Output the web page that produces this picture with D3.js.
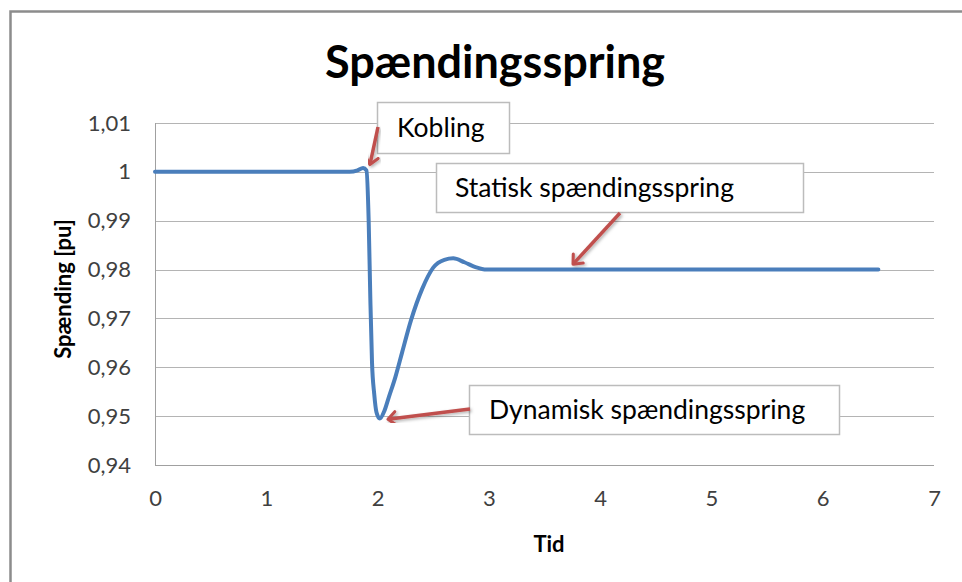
<!DOCTYPE html>
<html>
<head>
<meta charset="utf-8">
<script src="https://cdn.jsdelivr.net/npm/d3@7"></script>
<style>
  body { margin: 0; background: #fff; }
  text { font-family: Lato, "Noto Sans", sans-serif; }
</style>
</head>
<body>
<script>
// chart size
var w = 962;
var h = 582;

// data: time and voltage [pu]
var tid = [0, 1.0, 1.75, 1.82, 1.87, 1.9, 1.92, 1.935, 1.95, 1.97, 1.99, 2.02, 2.06, 2.1, 2.16, 2.22, 2.3, 2.4, 2.5, 2.6, 2.68, 2.78, 2.88, 2.98, 4, 5, 6, 6.5];
var spaending = [1.0, 1.0, 1.0, 1.0003, 1.0008, 1.0003, 0.99, 0.974, 0.961, 0.9545, 0.9508, 0.9495, 0.951, 0.9538, 0.958, 0.963, 0.9696, 0.976, 0.9804, 0.982, 0.9823, 0.9815, 0.9805, 0.98, 0.98, 0.98, 0.98, 0.98];

var yTicks = [0.94, 0.95, 0.96, 0.97, 0.98, 0.99, 1.0, 1.01];
var xTicks = [0, 1, 2, 3, 4, 5, 6, 7];

// callouts: text, the point on the curve the arrow hits
var callTekst = ["Kobling", "Statisk spændingsspring", "Dynamisk spændingsspring"];
var callPunkt = [[1.92, 1.0003], [3.72, 0.9802], [2.04, 0.9492]];

var svg = d3.select("body")
            .append("svg")
            .attr("width", w)
            .attr("height", h);

// chart frame (only top and left show in the picture)
svg.append("path")
   .attr("d", "M10.5," + h + "V11.5H" + w)
   .attr("fill", "none")
   .attr("stroke", "#8c8c8c")
   .attr("stroke-width", 2.5);

var x = d3.scaleLinear().domain([0, 7]).range([155, 934]);
var y = d3.scaleLinear().domain([0.94, 1.01]).range([465, 123]);

var fmt = function(d) { return d3.format(".2~f")(d).replace(".", ","); };

// horizontal gridlines
svg.append("g")
   .selectAll("line")
   .data(yTicks)
   .enter()
   .append("line")
   .attr("x1", x(0))
   .attr("x2", x(7))
   .attr("y1", function(d) { return Math.round(y(d)) + 0.5; })
   .attr("y2", function(d) { return Math.round(y(d)) + 0.5; })
   .attr("stroke", function(d) { return d === 0.94 ? "#a0a0a0" : "#b4b4b4"; })
   .attr("stroke-width", 1.2);

// y axis line
svg.append("line")
   .attr("x1", x(0) + 0.5).attr("x2", x(0) + 0.5)
   .attr("y1", y(1.01)).attr("y2", y(0.94))
   .attr("stroke", "#a0a0a0");

// axes from d3, only the labels are kept
var yAxis = svg.append("g")
   .attr("transform", "translate(" + 131 + ",0)")
   .call(d3.axisLeft(y).tickValues(yTicks).tickFormat(fmt).tickSize(0).tickPadding(0));
var xAxis = svg.append("g")
   .attr("transform", "translate(0," + 490 + ")")
   .call(d3.axisBottom(x).tickValues(xTicks).tickFormat(d3.format("d")).tickSize(0).tickPadding(0));

[yAxis, xAxis].forEach(function(a) {
    a.select(".domain").remove();
    a.selectAll("text")
     .attr("font-family", "Lato, 'Noto Sans', sans-serif")
     .attr("font-size", 22)
     .attr("fill", "#404040");
});
xAxis.selectAll("text").attr("dy", "0.71em");

// the voltage curve
var points = tid.map(function(t, i) { return [t, spaending[i]]; });
var line = d3.line()
             .x(function(d) { return x(d[0]); })
             .y(function(d) { return y(d[1]); })
             .curve(d3.curveMonotoneX);

svg.append("path")
   .datum(points)
   .attr("d", line)
   .attr("fill", "none")
   .attr("stroke", "#4a7ebb")
   .attr("stroke-width", 4)
   .attr("stroke-linejoin", "round")
   .attr("stroke-linecap", "round");

// title and axis titles
svg.append("text")
   .attr("x", 495)
   .attr("y", 78)
   .attr("text-anchor", "middle")
   .attr("font-size", 45)
   .attr("font-weight", "bold")
   .attr("fill", "#000")
   .text("Spændingsspring");

svg.append("text")
   .attr("transform", "translate(71,289) rotate(-90)")
   .attr("text-anchor", "middle")
   .attr("font-size", 22)
   .attr("font-weight", "bold")
   .attr("fill", "#000")
   .text("Spænding [pu]");

svg.append("text")
   .attr("x", 549)
   .attr("y", 552)
   .attr("text-anchor", "middle")
   .attr("font-size", 22)
   .attr("font-weight", "bold")
   .attr("fill", "#000")
   .text("Tid");

// arrow head marker
var defs = svg.append("defs");
defs.append("marker")
    .attr("id", "pil")
    .attr("viewBox", "-10 -10 20 20")
    .attr("refX", 0)
    .attr("refY", 0)
    .attr("markerWidth", 5.5)
    .attr("markerHeight", 5.5)
    .attr("markerUnits", "strokeWidth")
    .attr("orient", "auto")
    .append("path")
    .attr("d", "M-8,-7L0,0L-8,7")
    .attr("fill", "none")
    .attr("stroke", "#c0504d")
    .attr("stroke-width", 3.2)
    .attr("stroke-linecap", "round")
    .attr("stroke-linejoin", "round");

var shadow = defs.append("filter").attr("id", "skygge").attr("x", "-20%").attr("y", "-20%").attr("width", "150%").attr("height", "150%");
shadow.append("feDropShadow").attr("dx", 1.5).attr("dy", 1.5).attr("stdDeviation", 1.5).attr("flood-color", "#000").attr("flood-opacity", 0.3);

// callout boxes: position of each box, text start and where its arrow starts
var boks = [[377, 102, 132, 51], [436, 163, 367, 49], [469, 385, 370, 49]];
var tekstX = [397, 455, 489];
var start = [[378, 127], [620, 213], [470, 409]];

var grp = svg.selectAll("g.call")
             .data(callTekst)
             .enter()
             .append("g")
             .attr("class", "call");

grp.append("rect")
   .attr("x", function(d, i) { return boks[i][0] + 0.5; })
   .attr("y", function(d, i) { return boks[i][1] + 0.5; })
   .attr("width", function(d, i) { return boks[i][2]; })
   .attr("height", function(d, i) { return boks[i][3]; })
   .attr("fill", "#fff")
   .attr("stroke", "#bcbcbc")
   .attr("stroke-width", 1.5);

grp.append("text")
   .attr("x", function(d, i) { return tekstX[i]; })
   .attr("y", function(d, i) { return boks[i][1] + boks[i][3] / 2; })
   .attr("dy", "0.36em")
   .attr("font-size", 26.5)
   .attr("fill", "#000")
   .text(function(d) { return d; });

grp.append("line")
   .attr("x1", function(d, i) { return start[i][0]; })
   .attr("y1", function(d, i) { return start[i][1]; })
   .attr("x2", function(d, i) {
       var p = [x(callPunkt[i][0]), y(callPunkt[i][1])];
       var dx = p[0] - start[i][0], dy = p[1] - start[i][1];
       var len = Math.sqrt(dx * dx + dy * dy);
       return p[0] - dx / len * 6;
   })
   .attr("y2", function(d, i) {
       var p = [x(callPunkt[i][0]), y(callPunkt[i][1])];
       var dx = p[0] - start[i][0], dy = p[1] - start[i][1];
       var len = Math.sqrt(dx * dx + dy * dy);
       return p[1] - dy / len * 6;
   })
   .attr("stroke", "#c0504d")
   .attr("stroke-width", 3.5)
   .attr("marker-end", "url(#pil)")
   .attr("filter", "url(#skygge)");
</script>
</body>
</html>
